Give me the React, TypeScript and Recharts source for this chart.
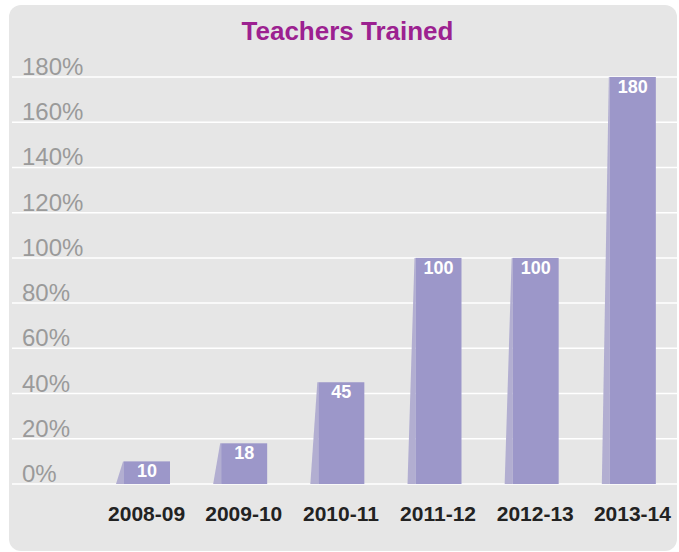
import { Bar, BarChart, CartesianGrid, LabelList, XAxis, YAxis } from "recharts";

const years = ["2008-09", "2009-10", "2010-11", "2011-12", "2012-13", "2013-14"];
const trained = [10, 18, 45, 100, 100, 180];
const yTicks = [0, 20, 40, 60, 80, 100, 120, 140, 160, 180];

const data = years.map((year, i) => ({ year, value: trained[i] }));

const FONT = "'Liberation Sans', Arial, Helvetica, sans-serif";
const BAR_FILL = "#9c97c9";
const SIDE_FILL = "#b2aed1";

function PrismBar(props: any) {
  const { x, y, width, height } = props;
  if (!height || height <= 0) return null;
  const bottom = y + height;
  return (
    <g>
      <polygon
        points={`${x - 8},${bottom} ${x},${bottom} ${x},${y} ${x - 1},${y}`}
        fill={SIDE_FILL}
      />
      <rect x={x} y={y} width={width} height={height} fill={BAR_FILL} />
    </g>
  );
}

function ValueLabel(props: any) {
  const { x, y, width, value } = props;
  return (
    <text
      x={x + width / 2}
      y={y + 16}
      textAnchor="middle"
      fill="#ffffff"
      fontFamily={FONT}
      fontWeight="bold"
      fontSize={18}
    >
      {value}
    </text>
  );
}

const renderYTick = (props: any) => {
  const { y, payload } = props;
  return (
    <text x={22} y={y - 2} textAnchor="start" fill="#9a9a9a" fontFamily={FONT} fontSize={24}>
      {`${payload.value}%`}
    </text>
  );
};

const renderXTick = (props: any) => {
  const { x, y, payload } = props;
  return (
    <text
      x={x}
      y={y}
      dy={29}
      textAnchor="middle"
      fill="#222222"
      fontFamily={FONT}
      fontWeight="bold"
      fontSize={21}
    >
      {payload.value}
    </text>
  );
};

export default function App() {
  return (
    <div style={{ position: "absolute", left: 0, top: 0, width: 679, height: 552, overflow: "hidden", background: "#ffffff" }}>
      <div
        style={{
          position: "absolute",
          left: 9,
          top: 5,
          width: 668,
          height: 546,
          background: "#e6e6e6",
          borderRadius: 12
        }}
      />
      <div
        style={{
          position: "absolute",
          left: 0,
          width: 695,
          top: 16,
          textAlign: "center",
          fontFamily: FONT,
          fontWeight: "bold",
          fontSize: 26,
          color: "#9c2190",
          lineHeight: "30px"
        }}
      >
        Teachers Trained
      </div>
      <div style={{ position: "absolute", left: 0, top: 0 }}>
        <BarChart
          width={681}
          height={552}
          data={data}
          margin={{ top: 77, right: 0, bottom: 38, left: 0 }}
        >
          <CartesianGrid vertical={false} stroke="#ffffff" strokeWidth={1.5} />
          <XAxis
            dataKey="year"
            axisLine={false}
            tickLine={false}
            padding={{ left: 86, right: 0 }}
            tick={renderXTick}
            interval={0}
          />
          <YAxis
            width={12}
            domain={[0, 180]}
            ticks={yTicks}
            interval={0}
            axisLine={false}
            tickLine={false}
            tick={renderYTick}
          />
          <Bar dataKey="value" barSize={46} shape={<PrismBar />} isAnimationActive={false}>
            <LabelList dataKey="value" content={<ValueLabel />} />
          </Bar>
        </BarChart>
      </div>
    </div>
  );
}
